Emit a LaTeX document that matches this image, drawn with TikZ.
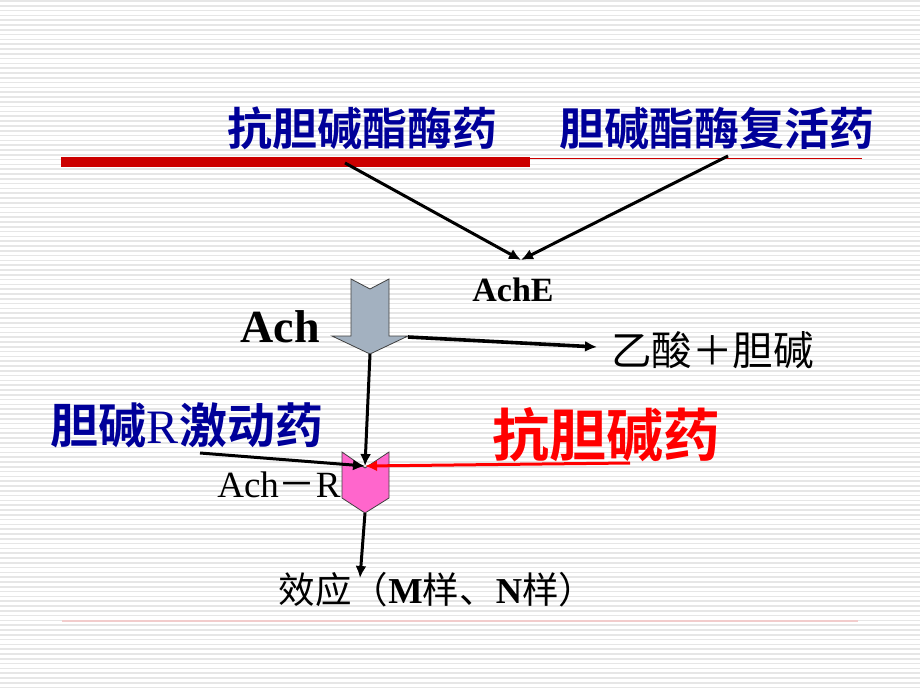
\documentclass[tikz,border=0pt]{standalone}
\usepackage{fontspec}
\setmainfont{Liberation Serif}
\newfontfamily\cjk{Noto Sans CJK SC}
\newfontfamily\cjkb{Noto Sans CJK SC Bold}
\usetikzlibrary{arrows.meta}
\definecolor{navy}{HTML}{000099}
\definecolor{darkred}{HTML}{CC0000}
\definecolor{bgline}{HTML}{E6E6E6}
\definecolor{arrowgray}{HTML}{A3B1C0}
\definecolor{pinkfill}{HTML}{FF66CC}
\definecolor{faintpink}{HTML}{F2CCCC}
\tikzset{
  conn/.style={line width=3pt,-{Latex[length=12pt,width=11pt]}},
  bluetitle/.style={text=navy,font=\cjkb\fontsize{45}{48}\selectfont,inner sep=0pt,anchor=center},
  blockshape/.style={draw=black!75,line width=0.8pt}
}
\begin{document}
\begin{tikzpicture}[x=1pt,y=-1pt]
\useasboundingbox (0,0) rectangle (920,690);
\fill[white] (0,0) rectangle (920,690);
\foreach \i in {0,...,143} \fill[bgline] (0,{0.3+4.8*\i}) rectangle (920,{1.9+4.8*\i});
% rules
\fill[darkred] (61,157) rectangle (530,167);
\draw[darkred,line width=1pt] (530,158) -- (862,158);
\draw[faintpink,line width=2pt] (62,621) -- (858,621);
% titles
\node[bluetitle] (t1) at (362,128) {抗胆碱酯酶药};
\node[bluetitle] (t2) at (717,128) {胆碱酯酶复活药};
\coordinate (s1) at (345,163);
\coordinate (s2) at (728,156);
\node[inner sep=0pt] (ache) at (513,290) {\fontsize{34}{36}\selectfont\bfseries AchE};
\coordinate (acheTip) at (521,260);
\draw[conn] (s1) -- (acheTip);
\draw[conn] (s2) -- (acheTip);
% Ach block arrow
\node[inner sep=0pt] (ach) at (280,327) {\fontsize{46}{48}\selectfont\bfseries Ach};
\draw[blockshape,fill=arrowgray] (351,279) -- (370,289) -- (389,279) -- (389,336) -- (408,336) -- (370,354) -- (332,336) -- (351,336) -- cycle;
\coordinate (achTip) at (370,354);
\coordinate (achR) at (408,337);
\node[inner sep=0pt,anchor=west] (prod) at (611,350) {\cjk\fontsize{40.5}{42}\selectfont 乙酸＋胆碱};
\draw[conn,line width=3.6pt] (achR) -- (597,347);
% receptor
\draw[blockshape,fill=pinkfill] (342,452) -- (365,468) -- (389,452) -- (389,498) -- (365,513) -- (342,498) -- cycle;
\coordinate (rNotch) at (365,466);
\coordinate (rTip) at (365,513);
\draw[conn] (achTip) -- (rNotch);
\node[inner sep=0pt] (ag) at (187,425) {\color{navy}\cjkb\fontsize{48}{50}\selectfont 胆碱{\rmfamily\mdseries R}激动药};
\coordinate (agStart) at (200,453);
\draw[conn] (agStart) -- (rNotch);
\node[inner sep=0pt] (anti) at (606,435) {\color{red}\cjkb\fontsize{57}{60}\selectfont 抗胆碱药};
\coordinate (antiStart) at (630,463);
\draw[red,line width=3pt,-{Latex[length=12pt,width=11pt]}] (antiStart) -- (rNotch);
\node[inner sep=0pt] (achr) at (279,485) {\fontsize{37}{40}\selectfont Ach{\cjk－}R};
% effect
\node[inner sep=0pt] (eff) at (437,590) {\cjk\fontsize{36.5}{40}\selectfont 效应（{\rmfamily\bfseries M}样、{\rmfamily\bfseries N}样）};
\draw[conn] (rTip) -- (360,578);
\end{tikzpicture}
\end{document}
